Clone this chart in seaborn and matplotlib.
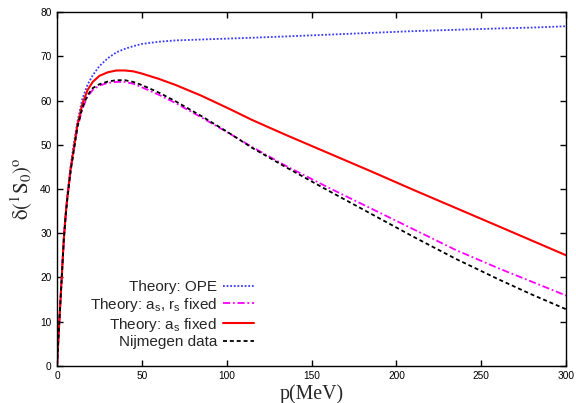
import matplotlib
matplotlib.use("Agg")
import matplotlib.pyplot as plt
import seaborn as sns
import pandas as pd

# ---- data ----
p_mev = [0, 1, 2, 3, 4, 5, 6, 8, 10, 12, 15, 18, 21, 25, 30, 35, 40, 45, 50,
         60, 70, 85, 100, 115, 135, 160, 185, 210, 235, 260, 280, 300]

theory_ope = [0, 7.7, 14.8, 22.0, 29.0, 34.2, 38.4, 45.2, 50.5, 55.2, 60.5, 63.6,
              65.7, 67.8, 69.6, 70.9, 71.7, 72.3, 72.8, 73.3, 73.6, 73.8, 74.0,
              74.2, 74.5, 74.9, 75.3, 75.7, 76.0, 76.3, 76.5, 76.8]

theory_as_rs = [0, 7.5, 14.5, 21.5, 28.5, 33.5, 37.5, 44.0, 49.0, 53.8, 58.2,
                60.9, 62.4, 63.4, 64.0, 64.2, 64.2, 63.8, 63.0, 61.3, 59.4, 56.2,
                52.9, 49.5, 45.2, 40.3, 35.6, 30.9, 26.2, 22.1, 19.0, 15.9]

theory_as = [0, 7.5, 14.5, 21.6, 28.7, 33.8, 37.9, 44.5, 49.5, 54.5, 59.3, 62.4,
             64.2, 65.6, 66.4, 66.8, 66.8, 66.6, 66.1, 64.9, 63.5, 61.1, 58.4,
             55.6, 52.2, 48.1, 44.0, 39.8, 35.7, 31.6, 28.3, 25.0]

nijmegen = [0, 7.5, 14.5, 21.5, 28.5, 33.5, 37.5, 44.0, 49.0, 54.0, 58.5, 61.2,
            62.8, 63.7, 64.3, 64.6, 64.6, 64.2, 63.5, 61.8, 59.8, 56.5, 53.0,
            49.3, 44.9, 39.6, 34.4, 29.2, 24.2, 19.6, 16.1, 12.8]

labels = ["Theory: OPE",
          r"Theory: a$_\mathrm{s}$, r$_\mathrm{s}$ fixed",
          r"Theory: a$_\mathrm{s}$ fixed",
          "Nijmegen data"]

x_ticks = [0, 50, 100, 150, 200, 250, 300]
y_ticks = [0, 10, 20, 30, 40, 50, 60, 70, 80]

# ---- style ----
sns.set_theme(style="ticks")
plt.rcParams["font.family"] = ["Liberation Sans", "DejaVu Sans"]
plt.rcParams["mathtext.fontset"] = "custom"
plt.rcParams["mathtext.rm"] = "Liberation Sans"
plt.rcParams["mathtext.it"] = "Liberation Sans:italic"

df = pd.DataFrame({"p": p_mev, "ope": theory_ope, "asrs": theory_as_rs,
                   "as": theory_as, "nij": nijmegen})

fig = plt.figure(figsize=(5.76, 4.03), dpi=100)
ax = fig.add_axes([0.099, 0.092, 0.884, 0.878])

sns.lineplot(data=df, x="p", y="ope", ax=ax, color="#3a3aff", lw=1.3,
             linestyle=(0, (1, 1)), label=labels[0])
sns.lineplot(data=df, x="p", y="asrs", ax=ax, color="#ff00ff", lw=1.3,
             linestyle=(0, (4, 1.5, 1, 1.5)), label=labels[1])
sns.lineplot(data=df, x="p", y="as", ax=ax, color="#ff0000", lw=1.5,
             linestyle="-", label=labels[2])
sns.lineplot(data=df, x="p", y="nij", ax=ax, color="black", lw=1.3,
             linestyle=(0, (2.2, 1.6)), label=labels[3])

ax.set_xlim(0, 300)
ax.set_ylim(0, 80)
ax.set_xticks(x_ticks)
ax.set_yticks(y_ticks)
ax.tick_params(direction="in", top=True, right=True, length=4, width=1,
               labelsize=7.3, colors="black", pad=4)
for s in ax.spines.values():
    s.set_visible(True)
    s.set_color("black")
    s.set_linewidth(1.0)

ax.set_xlabel("p(MeV)", fontsize=14.3, family="Liberation Serif", labelpad=2)
ax.set_ylabel(r"$\mathrm{\delta(^{1}S_{0})^{o}}$", fontsize=15,
              math_fontfamily="stix", labelpad=4)

leg = ax.legend(loc="center right", bbox_to_anchor=(0.386, 0.145),
                frameon=False, fontsize=11, markerfirst=False,
                handlelength=2.0, handletextpad=0.4, labelspacing=0.12,
                borderpad=0, borderaxespad=0)

fig.savefig("out.png", dpi=100)
